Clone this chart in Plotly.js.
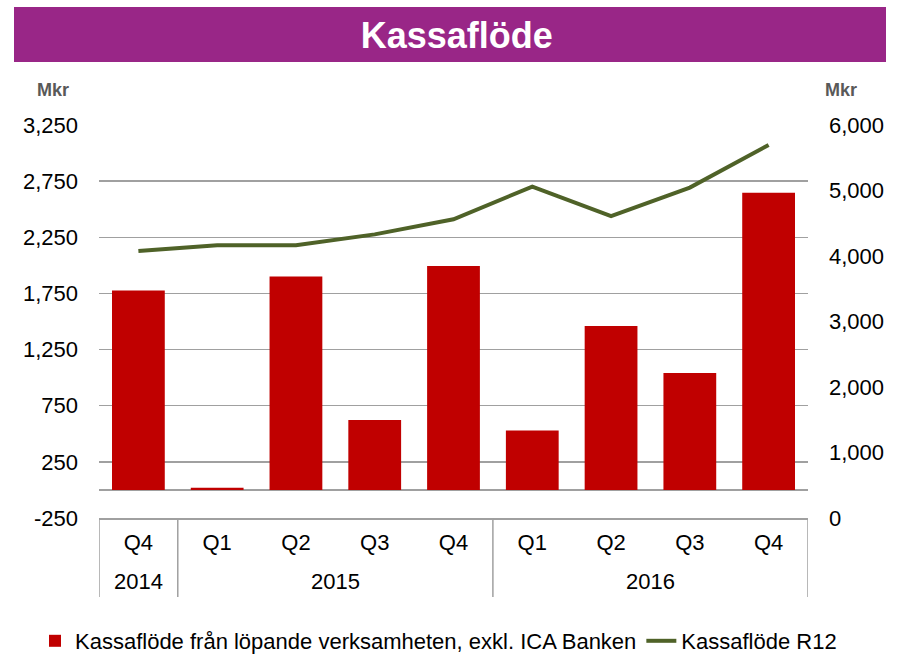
<!DOCTYPE html>
<html>
<head>
<meta charset="utf-8">
<script src="https://cdn.plot.ly/plotly-3.0.1.min.js"></script>
<style>
  html, body { margin: 0; padding: 0; background: #ffffff; }
  #chart { width: 901px; height: 657px; }
</style>
</head>
<body>
<div id="chart"></div>
<script>
// ---- Data ----
const years = ["2014", "2015", "2015", "2015", "2015", "2016", "2016", "2016", "2016"];
const quarters = ["Q4", "Q1", "Q2", "Q3", "Q4", "Q1", "Q2", "Q3", "Q4"];
const kassaflodeLopande = [1775, 20, 1900, 622, 1995, 530, 1461, 1042, 2646];
const kassaflodeR12 = [4075, 4165, 4165, 4330, 4560, 5060, 4610, 5045, 5695];
const leftTickVals = [-250, 250, 750, 1250, 1750, 2250, 2750, 3250];
const leftTickText = ["-250", "250", "750", "1,250", "1,750", "2,250", "2,750", "3,250"];
const rightTickVals = [0, 1000, 2000, 3000, 4000, 5000, 6000];
const rightTickText = ["0", "1,000", "2,000", "3,000", "4,000", "5,000", "6,000"];
const seriesNames = ["Kassaflöde från löpande verksamheten, exkl. ICA Banken", "Kassaflöde R12"];
const chartTitle = "Kassaflöde";
const unitLabel = "Mkr";

const FONT = "'Liberation Sans', Arial, Helvetica, sans-serif";
const GRID = "#a0a0a0";

// category positions on the x axis (one slot per quarter)
const xPos = quarters.map((q, i) => i);

// year groups derived from the years array
const groups = [];
years.forEach((y, i) => {
  if (!groups.length || groups[groups.length - 1].year !== y) {
    groups.push({ year: y, start: i, end: i });
  } else {
    groups[groups.length - 1].end = i;
  }
});

const traces = [
  {
    type: "bar",
    x: xPos,
    y: kassaflodeLopande,
    name: seriesNames[0],
    marker: { color: "#c00000", line: { width: 0 } },
    yaxis: "y",
    hoverinfo: "y"
  },
  {
    type: "scatter",
    mode: "lines",
    x: xPos,
    y: kassaflodeR12,
    name: seriesNames[1],
    line: { color: "#4f6228", width: 4 },
    yaxis: "y2",
    hoverinfo: "y"
  }
];

const axisBottomPaper = (518 - 597) / 393;

const shapes = [
  {
    type: "rect", layer: "below",
    xref: "paper", yref: "paper",
    x0: (14 - 99) / 709, x1: (886 - 99) / 709,
    y0: (518 - 62) / 393, y1: (518 - 7) / 393,
    fillcolor: "#992687", line: { width: 0 }
  }
];
// divider lines of the category table: outer edges and year boundaries
const boundaries = [groups[0].start - 0.5].concat(groups.map(g => g.end + 0.5));
boundaries.forEach(b => {
  shapes.push({
    type: "line", xref: "x", yref: "paper",
    x0: b, x1: b, y0: 0, y1: axisBottomPaper,
    line: { color: GRID, width: 1.5 }
  });
});

const annotations = [
  {
    text: unitLabel, xref: "paper", yref: "paper",
    x: (53 - 99) / 709, y: (518 - 90) / 393,
    xanchor: "center", yanchor: "middle", showarrow: false,
    font: { family: FONT, size: 18, color: "#595959", weight: 700 }
  },
  {
    text: unitLabel, xref: "paper", yref: "paper",
    x: (841 - 99) / 709, y: (518 - 90) / 393,
    xanchor: "center", yanchor: "middle", showarrow: false,
    font: { family: FONT, size: 18, color: "#595959", weight: 700 }
  }
];
groups.forEach(g => {
  annotations.push({
    text: g.year, xref: "x", yref: "paper",
    x: (g.start + g.end) / 2, y: (518 - 581) / 393,
    xanchor: "center", yanchor: "middle", showarrow: false,
    font: { family: FONT, size: 22, color: "#000000" }
  });
});

const layout = {
  width: 901,
  height: 657,
  margin: { l: 99, r: 93, t: 125, b: 139, pad: 0, autoexpand: false },
  paper_bgcolor: "#ffffff",
  plot_bgcolor: "#ffffff",
  font: { family: FONT, size: 22, color: "#000000" },
  showlegend: true,
  bargap: 0.33,
  title: {
    text: chartTitle,
    font: { family: FONT, size: 36, color: "#ffffff", weight: 700 },
    x: 0.507, xanchor: "center",
    y: 1 - 35 / 657, yanchor: "middle",
    xref: "container", yref: "container"
  },
  xaxis: {
    type: "linear",
    range: [-0.5, quarters.length - 0.5],
    tickvals: xPos,
    ticktext: quarters,
    showline: true,
    linecolor: GRID,
    linewidth: 1.5,
    showgrid: false,
    zeroline: false,
    ticks: "",
    ticklabelstandoff: 4,
    tickfont: { family: FONT, size: 22, color: "#000000" },
    fixedrange: true
  },
  yaxis: {
    range: [-250, 3250],
    tickvals: leftTickVals,
    ticktext: leftTickText,
    showgrid: true,
    gridcolor: GRID,
    gridwidth: 1.5,
    zeroline: true,
    zerolinecolor: GRID,
    zerolinewidth: 1.5,
    showline: false,
    ticks: "",
    ticklabelstandoff: 20,
    tickfont: { family: FONT, size: 22, color: "#000000" },
    fixedrange: true
  },
  yaxis2: {
    overlaying: "y",
    side: "right",
    range: [0, 6000],
    tickvals: rightTickVals,
    ticktext: rightTickText,
    showgrid: false,
    zeroline: false,
    showline: false,
    ticks: "",
    ticklabelstandoff: 20,
    tickfont: { family: FONT, size: 22, color: "#000000" },
    fixedrange: true
  },
  legend: {
    orientation: "h",
    xref: "paper", yref: "paper",
    x: (35 - 99) / 709, xanchor: "left",
    y: (518 - 641) / 393, yanchor: "middle",
    font: { family: FONT, size: 22, color: "#000000" },
    bgcolor: "rgba(0,0,0,0)",
    borderwidth: 0,
    traceorder: "normal",
    itemwidth: 30
  },
  shapes: shapes,
  annotations: annotations
};

Plotly.newPlot("chart", traces, layout, { displayModeBar: false, staticPlot: true });
</script>
</body>
</html>
